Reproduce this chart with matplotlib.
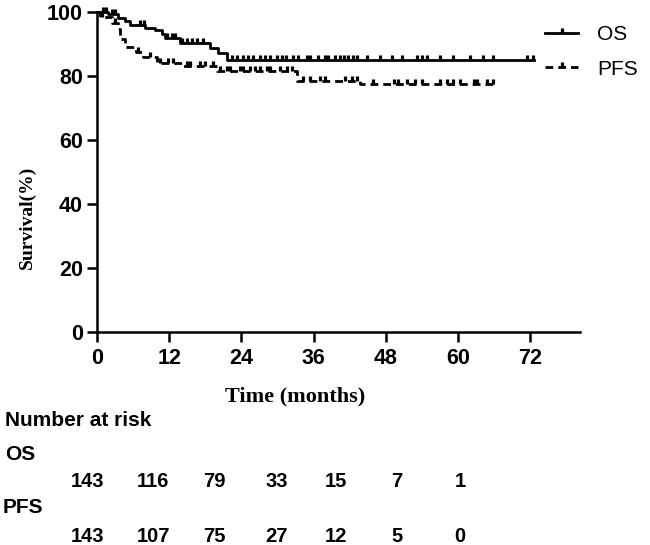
import numpy as np
import matplotlib
matplotlib.use("Agg")
import matplotlib.pyplot as plt
from matplotlib.lines import Line2D

# Kaplan-Meier steps (months, survival %)
os_times = [0, 1.9, 3.5, 4.7, 5.5, 8.0, 9.6, 10.8, 11.3, 13.8, 18.8, 20.1, 21.6, 72.7]
os_surv = [100, 99.2, 98.1, 97.0, 96.0, 95.0, 94.2, 92.9, 91.9, 90.2, 88.7, 87.1, 85.0, 85.0]
pfs_times = [0, 0.5, 2.5, 3.5, 3.9, 4.6, 6.5, 7.7, 9.9, 14.3, 19.9, 33.3, 43.8, 66.2]
pfs_surv = [100, 98.5, 96.5, 94.5, 91.5, 89.0, 87.5, 86.0, 84.0, 83.0, 81.4, 78.4, 77.6, 77.6]

# censored observations
os_censor = [1.0, 1.5, 2.5, 3.0, 7.2, 7.8, 11.6, 12.4, 13.0, 14.1, 15.0, 15.8, 16.6, 17.6,
             22.4, 23.2, 24.3, 25.1, 26.0, 27.1, 28.0, 28.8, 29.9, 30.7, 31.5, 32.6, 33.4,
             34.9, 35.4, 36.8, 37.9, 38.4, 39.6, 40.4, 41.0, 41.8, 42.6, 43.3, 44.9, 47.1,
             49.1, 50.7, 53.2, 54.0, 54.9, 57.0, 59.2, 62.0, 64.2, 65.9, 71.5, 72.5]
pfs_censor = [0.8, 3.0, 6.8, 8.8, 10.5, 11.8, 12.6, 15.0, 15.5, 17.1, 18.0, 19.3, 20.5, 21.6,
              22.1, 23.8, 24.3, 25.5, 26.3, 27.1, 28.3, 28.8, 30.4, 31.6, 32.4, 34.3, 35.4,
              37.1, 37.9, 41.3, 42.4, 43.3, 45.9, 49.3, 50.1, 51.6, 52.9, 54.1, 57.1, 58.2,
              59.2, 60.4, 62.6, 63.2, 64.9, 65.9]

risk_labels = ["OS", "PFS"]
os_risk = [143, 116, 79, 33, 15, 7, 1]
pfs_risk = [143, 107, 75, 27, 12, 5, 0]
xticks = [0, 12, 24, 36, 48, 60, 72]
yticks = [0, 20, 40, 60, 80, 100]

W, H = 650, 545
fig = plt.figure(figsize=(W / 100, H / 100), dpi=100)
ax = fig.add_axes([97 / W, 1 - 332.3 / H, (580 - 97) / W, (332.3 - 11.7) / H])


def surv_at(times, surv, t):
    idx = np.searchsorted(times, t, side="right") - 1
    return np.array(surv)[idx]


lw = 2.0
dash = (2.8, 1.8)
mk = dict(marker=2, ms=3.8, mew=2.3, color="black")
ax.step(os_times, os_surv, where="post", color="black", lw=lw, clip_on=False)
ax.step(pfs_times, pfs_surv, where="post", color="black", lw=lw, clip_on=False,
        dashes=dash)
ax.plot(os_censor, surv_at(os_times, os_surv, os_censor), ls="none", clip_on=False, **mk)
ax.plot(pfs_censor, surv_at(pfs_times, pfs_surv, pfs_censor), ls="none", clip_on=False, **mk)

ax.set_xlim(0, 80.3)
ax.set_ylim(0, 100)
ax.set_xticks(xticks)
ax.set_yticks(yticks)
for side in ["top", "right"]:
    ax.spines[side].set_visible(False)
for side in ["left", "bottom"]:
    ax.spines[side].set_linewidth(1.8)
ax.tick_params(direction="out", length=7, width=1.8, labelsize=15.5)
ax.tick_params(axis="x", pad=4)
ax.tick_params(axis="y", pad=3)
for lab in ax.get_xticklabels() + ax.get_yticklabels():
    lab.set_fontfamily("Liberation Sans")
    lab.set_fontweight("bold")

ax.set_xlabel("Time (months)", fontfamily="Liberation Serif", fontweight="bold", fontsize=16)
ax.xaxis.set_label_coords((295 - 97) / 483, (332.3 - 386) / 320.6)
ax.set_ylabel("Survival(%)", fontfamily="Liberation Serif", fontweight="bold", fontsize=14)
ax.yaxis.label.set_va("center")
ax.yaxis.set_label_coords((27 - 97) / 483, (332.3 - 217) / 320.6)

handles = [
    Line2D([], [], lw=lw, **mk),
    Line2D([], [], lw=lw, dashes=dash, **mk),
]
ax.legend(handles, risk_labels, loc="upper left", bbox_to_anchor=(545 / W, 1 - 25 / H),
          bbox_transform=fig.transFigure, frameon=False, borderpad=0, borderaxespad=0,
          handlelength=1.6, handletextpad=0.9, labelspacing=0.75,
          prop={"family": "Liberation Sans", "size": 15})

# number at risk table
col_x = [88, 153, 214, 277, 336, 397, 460]
txt = dict(fontfamily="Liberation Sans", fontweight="bold", va="baseline")
fig.text(5 / W, 1 - 425.7 / H, "Number at risk", fontsize=15, ha="left", **txt)
fig.text(5 / W, 1 - 460 / H, risk_labels[0], fontsize=15, ha="left", **txt)
fig.text(3 / W, 1 - 513 / H, risk_labels[1], fontsize=15, ha="left", **txt)
for x, n in zip(col_x, os_risk):
    fig.text(x / W, 1 - 487.3 / H, str(n), fontsize=14.5, ha="center", **txt)
for x, n in zip(col_x, pfs_risk):
    fig.text(x / W, 1 - 541.7 / H, str(n), fontsize=14.5, ha="center", **txt)

fig.savefig("out.png", dpi=100)
